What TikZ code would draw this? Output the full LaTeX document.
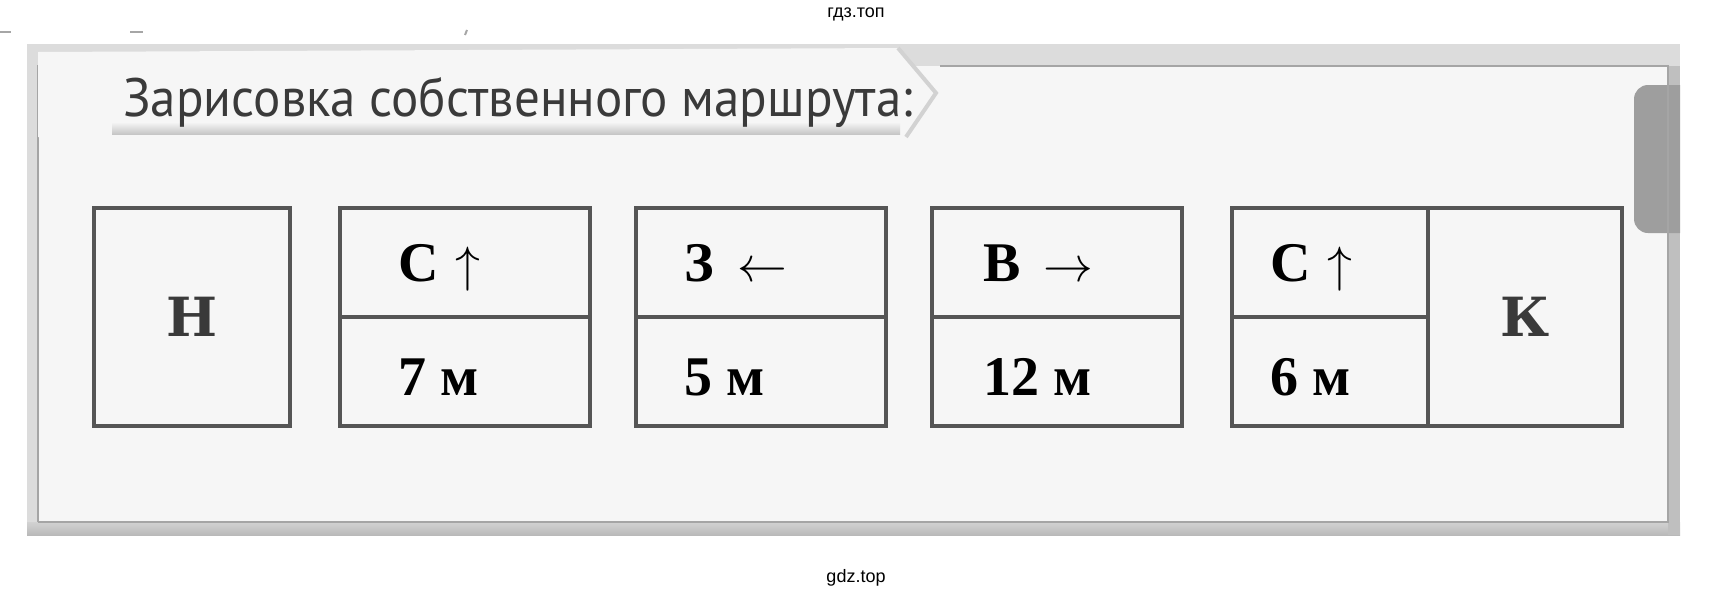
\documentclass[tikz,border=0pt]{standalone}
\usepackage{fontspec}
\setmainfont{Liberation Serif}
\newfontfamily\headfont{PT Sans}
\newfontfamily\letterfont{DejaVu Serif}
\newfontfamily\wmfont{Liberation Sans}
\usetikzlibrary{positioning}
\definecolor{scangray}{HTML}{DCDCDC}
\definecolor{cardwhite}{HTML}{F6F6F6}
\definecolor{edgegray}{HTML}{A5A5A5}
\definecolor{boxgray}{HTML}{555555}
\definecolor{inkgray}{HTML}{3A3A3A}
\definecolor{tabgray}{HTML}{9E9E9E}

\begin{document}
\begin{tikzpicture}[x=0.5pt,y=-0.5pt]
\tikzstyle{cellbox}=[rectangle, draw=boxgray, line width=2pt, inner sep=0pt, outer sep=0pt, minimum width=125pt]
\tikzstyle{halfcell}=[cellbox, minimum height=54.5pt]
\tikzstyle{narrow}=[minimum width=98pt]
\tikzstyle{bigcell}=[cellbox, minimum width=98pt, minimum height=109pt, text=inkgray, font=\letterfont\bfseries\fontsize{27}{30}\selectfont]
\tikzstyle{toplbl}=[anchor=base west, inner sep=0pt, font=\bfseries\fontsize{28}{32}\selectfont]
\tikzstyle{botlbl}=[anchor=base west, inner sep=0pt, font=\bfseries\fontsize{28}{32}\selectfont]
\tikzstyle{wmark}=[inner sep=0pt, font=\wmfont\fontsize{9}{10}\selectfont]
\useasboundingbox (0,0) rectangle (1716,600);
\fill[white] (0,0) rectangle (1716,600);
\begin{scope}
\clip (27,44) rectangle (1680,535);
\fill[scangray] (27,44) rectangle (1680,535);
\fill[cardwhite] (38,66) rectangle (1668,522);
\shade[top color=gray!35, bottom color=gray!55] (27,522) rectangle (1680,535);
\fill[gray!50] (1668,66) rectangle (1680,535);
\fill[tabgray, rounded corners=7pt] (1634,85) rectangle (1710,233);
\draw[edgegray, line width=1pt] (38,522) -- (38,66) -- (80,66);
\draw[edgegray, line width=1pt] (940,66) -- (1668,66) -- (1668,522) -- (38,522);
\fill[cardwhite] (38,52) -- (898,48) -- (936,93) -- (906,137) -- (38,137) -- cycle;
\draw[gray!35, line width=2pt] (898,48) -- (936,93) -- (906,137);
\shade[top color=cardwhite, bottom color=gray!45] (112,122) rectangle (900,134);
\end{scope}
\node (title) [anchor=base west, inner sep=0pt, text=inkgray, xscale=0.945, transform shape, font=\headfont\fontsize{27}{30}\selectfont] at (123,116) {Зарисовка собственного маршрута:};
\node (n) [bigcell] at (192,317) {Н};
\node (c2t) [halfcell, right=25pt of n.north east, anchor=north west] {};
\node (c2b) [halfcell, below=0pt of c2t] {};
\node (c3t) [halfcell, right=23pt of c2t] {};
\node (c3b) [halfcell, below=0pt of c3t] {};
\node (c4t) [halfcell, right=23pt of c3t] {};
\node (c4b) [halfcell, below=0pt of c4t] {};
\node (c5t) [halfcell, narrow, right=25pt of c4t] {};
\node (c5b) [halfcell, narrow, below=0pt of c5t] {};
\node (k) [bigcell, minimum width=97pt, right=0pt of c5t.north east, anchor=north west] {К};
\node (l2t) [toplbl] at (398,281) {С\hspace{0.3em}$\uparrow$};
\node (l2b) [botlbl] at (398,395) {7 м};
\node (l3t) [toplbl] at (684,281) {З\hspace{0.42em}$\leftarrow$};
\node (l3b) [botlbl] at (684,395) {5 м};
\node (l4t) [toplbl] at (983,281) {В\hspace{0.4em}$\rightarrow$};
\node (l4b) [botlbl] at (983,395) {12 м};
\node (l5t) [toplbl] at (1270,281) {С\hspace{0.3em}$\uparrow$};
\node (l5b) [botlbl] at (1270,395) {6 м};
\node (wtop) [wmark] at (856,14) {гдз.топ};
\node (wbot) [wmark] at (856,578) {gdz.top};
\draw[gray!70, line width=1pt] (0,32) -- (11,32);
\draw[gray!70, line width=1pt] (130,32) -- (143,32);
\draw[gray!70, line width=1pt] (467,30) -- (465,35);
\end{tikzpicture}
\end{document}
